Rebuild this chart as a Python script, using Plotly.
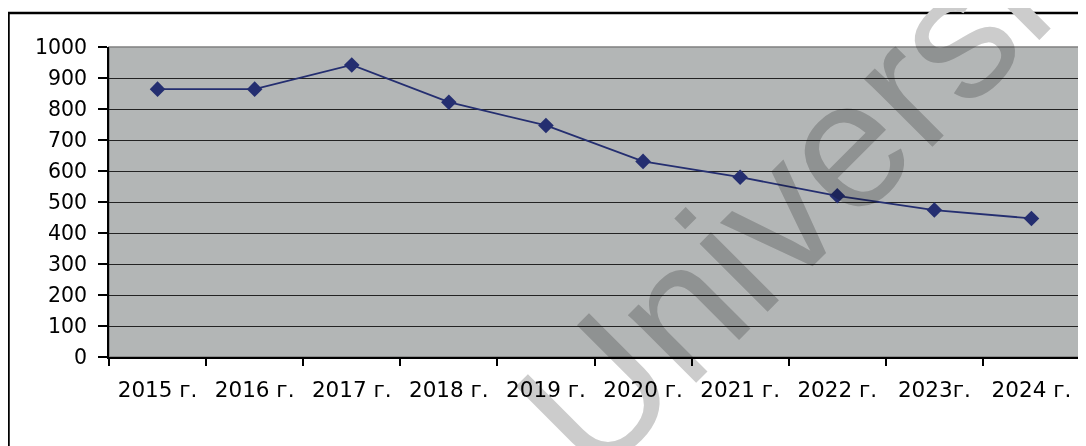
import plotly.graph_objects as go

years = ["2015 г.", "2016 г.", "2017 г.", "2018 г.", "2019 г.", "2020 г.", "2021 г.", "2022 г.", "2023г.", "2024 г."]
values = [864, 864, 942, 822, 747, 631, 580, 520, 474, 447]
y_ticks = [0, 100, 200, 300, 400, 500, 600, 700, 800, 900, 1000]
watermark = "University"

navy = "rgb(36,46,112)"
font_family = "DejaVu Sans"

# page body has an 8px default margin; compensate so the plot lands at the reference pixels
OFF = 8
PL, PR, PT, PB = 109, 1080, 47, 357  # plot area in page pixels
W, H = 1086 - OFF, 446 - OFF

fig = go.Figure()
fig.add_trace(go.Scatter(
    x=years, y=values, mode="lines+markers",
    line=dict(color=navy, width=1.8),
    marker=dict(symbol="diamond", size=12, color=navy),
    cliponaxis=False, showlegend=False,
))

fig.update_layout(
    width=W, height=H,
    margin=dict(l=PL - OFF, r=W - (PR - OFF), t=PT - OFF, b=H - (PB - OFF)),
    paper_bgcolor="white",
    plot_bgcolor="rgb(179,182,182)",
    font=dict(family=font_family, size=20.5, color="black"),
    showlegend=False,
)

fig.update_xaxes(
    type="category", tickson="boundaries",
    showline=True, linecolor="black", linewidth=1.5,
    ticks="outside", ticklen=7, tickcolor="black", tickwidth=1.5,
    showgrid=False, zeroline=False,
    tickfont=dict(size=21.5),
    ticklabelstandoff=12,
    range=[-0.5, len(years) - 0.5],
)
fig.update_yaxes(
    range=[0, 1000], tickvals=y_ticks,
    showline=True, linecolor="black", linewidth=1.5,
    ticks="outside", ticklen=9, tickcolor="black", tickwidth=1.5,
    showgrid=True, gridcolor="rgb(35,35,35)", gridwidth=1.2,
    zeroline=False, ticklabelstandoff=7,
)

pw, ph = PR - PL, PB - PT
def px(x):
    return (x - PL) / pw
def py(y):
    return (PB - y) / ph

# plot area border (top/right gray)
fig.add_shape(type="rect", xref="paper", yref="paper", x0=0, x1=1, y0=0, y1=1,
              line=dict(color="rgb(128,128,128)", width=1.5), layer="below")
# outer chart frame
fig.add_shape(type="rect", xref="paper", yref="paper",
              x0=px(8.5), x1=1.2, y0=-0.5, y1=py(13),
              line=dict(color="black", width=2.5), fillcolor="rgba(0,0,0,0)")

# watermark
fig.add_annotation(
    text=watermark, xref="paper", yref="paper",
    x=px(832), y=py(158),
    xanchor="center", yanchor="middle", showarrow=False,
    textangle=-45,
    font=dict(family="Liberation Sans", size=182, color="rgb(204,204,204)"),
)

post = """
var gd = document.getElementById('{plot_id}');
var info = gd.querySelector('.infolayer');
if (info && info.ownerSVGElement) { info.ownerSVGElement.style.mixBlendMode = 'multiply'; }
"""
fig.write_html("out.html", post_script=post)
